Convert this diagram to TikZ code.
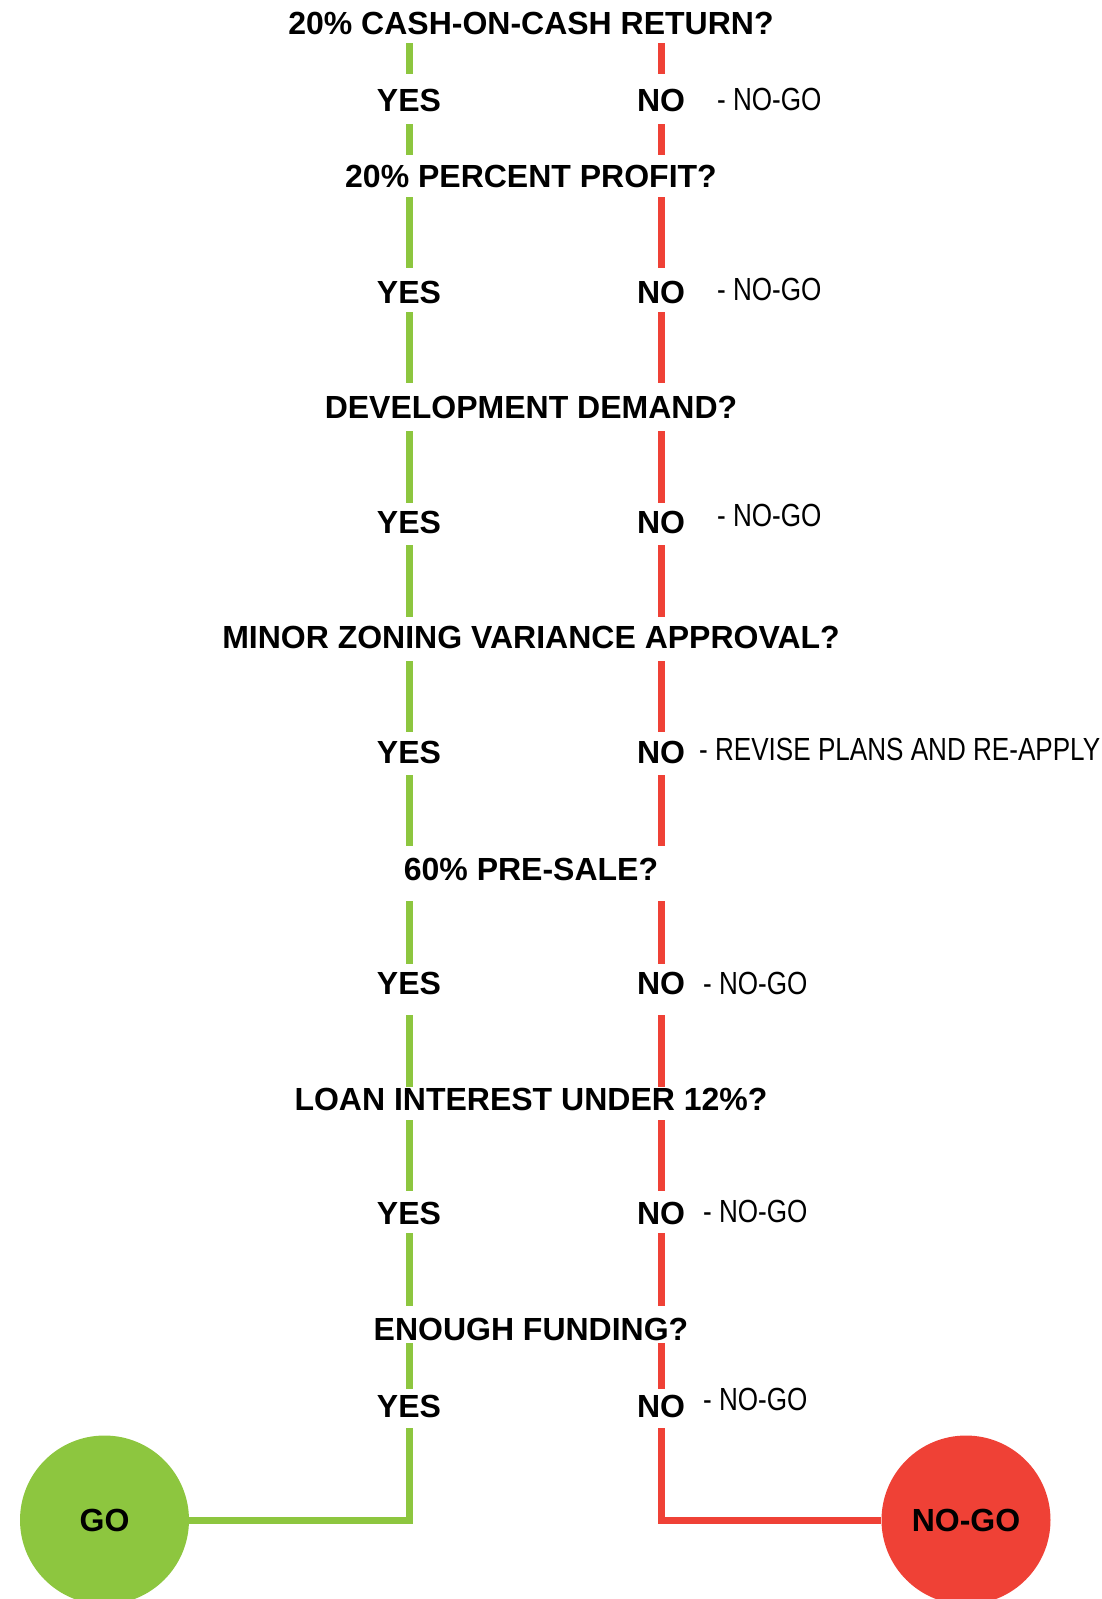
\documentclass[tikz,border=0pt]{standalone}
\usepackage{fontspec}
\setmainfont{Liberation Sans}
\newfontfamily\narrowf{Liberation Sans}[FakeStretch=0.815]
\definecolor{gogreen}{RGB}{141,198,63}
\definecolor{nored}{RGB}{239,65,54}
\begin{document}
\begin{tikzpicture}[x=1pt,y=-1pt,
  base/.style={inner sep=0pt, text height=22.5pt, text depth=0pt,
    font=\fontsize{32}{36}\selectfont\bfseries},
  question/.style={base, anchor=center},
  answer/.style={base, anchor=center},
  note/.style={inner sep=0pt, text height=22.5pt, text depth=0pt, anchor=west,
    font=\fontsize{32}{36}\selectfont\narrowf},
  gl/.style={draw=gogreen, line width=7pt},
  rl/.style={draw=nored, line width=7pt},
  endcirc/.style={circle, minimum size=169pt, inner sep=0pt, text height=22.5pt, text depth=0pt,
    font=\fontsize{32}{36}\selectfont\bfseries}
]
\useasboundingbox (0,0) rectangle (1102,1599);

% questions
\node[question] (T1) at (531,23)   {20\% CASH-ON-CASH RETURN?};
\node[question] (T2) at (531,176)  {20\% PERCENT PROFIT?};
\node[question] (T3) at (531,407)  {DEVELOPMENT DEMAND?};
\node[question] (T4) at (531,637)  {MINOR ZONING VARIANCE APPROVAL?};
\node[question] (T5) at (531,869)  {60\% PRE-SALE?};
\node[question] (T6) at (531,1099) {LOAN INTEREST UNDER 12\%?};
\node[question] (T7) at (531,1329) {ENOUGH FUNDING?};

% answers
\foreach \i/\y in {1/100,2/292,3/522,4/752,5/983,6/1213,7/1406}{
  \node[answer] (Y\i) at (409,\y) {YES};
  \node[answer] (N\i) at (661,\y) {NO};
}

% notes
\node[note] (M1) at (717,99)    {- NO-GO};
\node[note] (M2) at (717,289.5) {- NO-GO};
\node[note] (M3) at (717,515)   {- NO-GO};
\node[note] (M4) at (699,749)   {- REVISE PLANS AND RE-APPLY};
\node[note] (M5) at (703,983.5) {- NO-GO};
\node[note] (M6) at (703,1211)  {- NO-GO};
\node[note] (M7) at (703,1399)  {- NO-GO};

% end circles
\node[endcirc, fill=gogreen] (GO) at (104.5,1520) {GO};
\node[endcirc, fill=nored] (NOGO) at (966,1520) {NO-GO};

% connectors
\foreach \a/\b/\s/\e in {
  T1/1/8.75/14.75,
  T2/2/9.75/12.75,
  T3/3/12.75/7.75,
  T4/4/12.75/8.75,
  T5/5/20.75/7.75,
  T6/6/9.75/10.75,
  T7/7/2.75/5.75}{
  \draw[gl, shorten <=\s pt, shorten >=\e pt] (\a.south -| Y\b) -- (Y\b.north);
  \draw[rl, shorten <=\s pt, shorten >=\e pt] (\a.south -| N\b) -- (N\b.north);
}
\foreach \a/\b/\s/\e in {
  1/T2/12.75/9.75,
  2/T3/8.75/12.75,
  3/T4/11.75/8.75,
  4/T5/11.75/11.75,
  5/T6/20.75/0.75,
  6/T7/8.75/11.75}{
  \draw[gl, shorten <=\s pt, shorten >=\e pt] (Y\a.south) -- (Y\a |- \b.north);
  \draw[rl, shorten <=\s pt, shorten >=\e pt] (N\a.south) -- (N\a |- \b.north);
}
\draw[gl, shorten <=10.75pt] (Y7.south) |- (GO.east);
\draw[rl, shorten <=10.75pt] (N7.south) |- (NOGO.west);
\end{tikzpicture}
\end{document}
